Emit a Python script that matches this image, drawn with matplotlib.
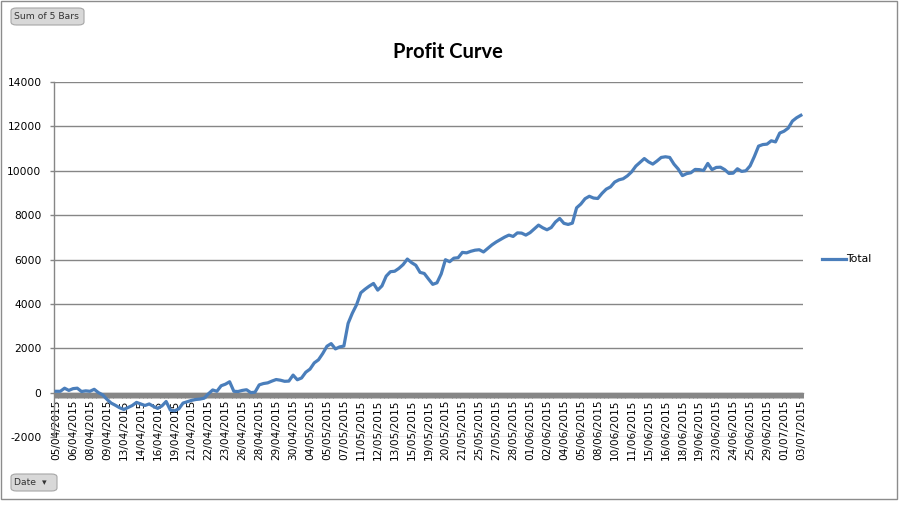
import matplotlib
matplotlib.use("Agg")
import matplotlib.pyplot as plt
from matplotlib.patches import Rectangle, FancyBboxPatch
import numpy as np

# profit curve values, one per category step
profit = [
    60, 60, 200, 100, 180, 200, 50, 80, 60, 150,
    0, -100, -300, -470, -570, -680, -760, -670, -580, -440,
    -510, -580, -510, -620, -710, -600, -400, -790, -820, -730,
    -470, -410, -350, -310, -290, -250, -50, 120, 60, 310,
    380, 490, 60, 50, 100, 130, 0, 20, 350, 410,
    440, 520, 590, 560, 510, 520, 790, 580, 660, 920,
    1060, 1340, 1480, 1760, 2090, 2210, 1970, 2060, 2100, 3120,
    3580, 3960, 4500, 4660, 4800, 4920, 4620, 4810, 5250, 5450,
    5470, 5600, 5770, 6020, 5860, 5740, 5420, 5370, 5120, 4880,
    4950, 5350, 5990, 5900, 6060, 6080, 6320, 6300, 6370, 6420,
    6440, 6340, 6500, 6660, 6790, 6900, 7010, 7100, 7040, 7200,
    7190, 7100, 7210, 7380, 7550, 7430, 7340, 7440, 7690, 7850,
    7630, 7580, 7640, 8330, 8500, 8740, 8850, 8770, 8750, 8980,
    9170, 9270, 9490, 9590, 9640, 9770, 9950, 10210, 10380, 10550,
    10400, 10300, 10440, 10600, 10630, 10600, 10300, 10080, 9780, 9870,
    9910, 10060, 10050, 10010, 10330, 10050, 10150, 10160, 10050, 9880,
    9890, 10090, 9970, 10000, 10220, 10640, 11110, 11180, 11200, 11350,
    11300, 11700, 11780, 11920, 12240, 12390, 12500,
]

date_labels = [
    "05/04/2015", "06/04/2015", "08/04/2015", "09/04/2015", "13/04/2015",
    "14/04/2015", "16/04/2015", "19/04/2015", "21/04/2015", "22/04/2015",
    "23/04/2015", "26/04/2015", "28/04/2015", "29/04/2015", "30/04/2015",
    "04/05/2015", "05/05/2015", "07/05/2015", "11/05/2015", "12/05/2015",
    "13/05/2015", "15/05/2015", "19/05/2015", "20/05/2015", "21/05/2015",
    "25/05/2015", "27/05/2015", "28/05/2015", "01/06/2015", "02/06/2015",
    "04/06/2015", "05/06/2015", "08/06/2015", "10/06/2015", "11/06/2015",
    "15/06/2015", "16/06/2015", "18/06/2015", "19/06/2015", "23/06/2015",
    "24/06/2015", "25/06/2015", "29/06/2015", "01/07/2015", "03/07/2015",
]

y_ticks = [-2000, 0, 2000, 4000, 6000, 8000, 10000, 12000, 14000]

LINE = "#4a7ebb"
GRID = "#868686"

fig = plt.figure(figsize=(9.04, 5.05), dpi=100)
W, H = 904, 505

# outer chart border
fig.patches.append(Rectangle((1 / W, 6 / H), 896 / W, 498 / H, transform=fig.transFigure,
                             fill=False, edgecolor="#8c8c8c", lw=1.0))

ax = fig.add_axes([54 / W, 1 - 437 / H, 749 / W, 355 / H])
n = len(profit)
x = np.arange(n)
ax.plot(x, profit, color=LINE, lw=2.3, solid_joinstyle="round", label="Total", zorder=3)

ax.set_xlim(-0.5, n - 0.5)
ax.set_ylim(y_ticks[0], y_ticks[-1])
ax.set_yticks(y_ticks)
ax.set_yticklabels([str(v) for v in y_ticks])
ax.yaxis.grid(True, color=GRID, lw=1.0)
ax.set_axisbelow(True)

for s in ["top", "right"]:
    ax.spines[s].set_visible(False)
ax.spines["left"].set_color(GRID)
ax.spines["left"].set_linewidth(1.0)
ax.spines["bottom"].set_position(("data", 0))
ax.spines["bottom"].set_color(GRID)
ax.spines["bottom"].set_linewidth(1.0)

# dense category tick marks form the thick band on the zero line
ax.set_xticks(x, minor=True)
ax.set_xticks(x[::4])
ax.set_xticklabels(date_labels, rotation=90, fontsize=7.6, family="DejaVu Sans")
ax.tick_params(axis="x", which="both", color=GRID, length=3.3, width=3.6, direction="out", pad=2.0)
ax.tick_params(axis="y", color=GRID, length=3, width=1.0, labelsize=7.7, pad=6)

ax.legend(loc="center left", bbox_to_anchor=(1.012, 0.5), frameon=False, fontsize=7.8,
          handlelength=2.2, handletextpad=0.05)

fig.text(448 / W, 1 - 52 / H, "Profit Curve", ha="center", va="center",
         fontsize=14.5, fontweight="bold", family="Lato")

# pivot chart field buttons
for (bx, by, bw, bh, label) in [(11, 8, 73, 17, "Sum of 5 Bars"), (11, 474, 46, 17, "Date  \u25be")]:
    fig.patches.append(FancyBboxPatch((bx / W, 1 - (by + bh) / H), bw / W, bh / H,
                                      boxstyle="round,pad=0,rounding_size=0.006",
                                      transform=fig.transFigure, facecolor="#d8d8d8",
                                      edgecolor="#a6a6a6", lw=0.8))
    fig.text((bx + 3) / W, 1 - (by + bh / 2) / H, label, ha="left", va="center",
             fontsize=6.7, color="#333333")

fig.savefig("out.png", dpi=100)
